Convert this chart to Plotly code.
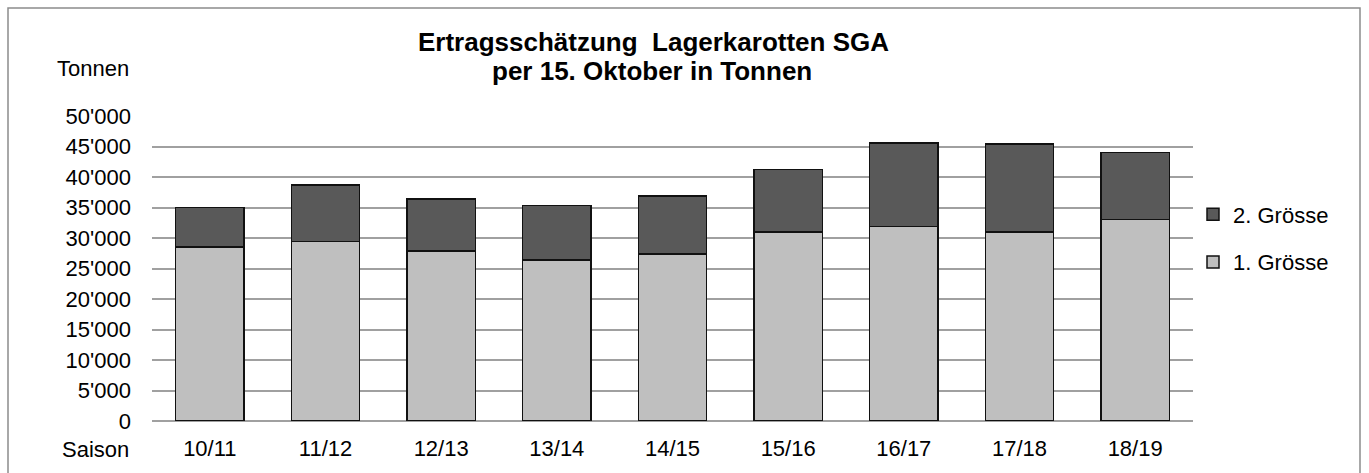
import plotly.graph_objects as go

seasons = ["10/11", "11/12", "12/13", "13/14", "14/15", "15/16", "16/17", "17/18", "18/19"]
groesse1 = [28500, 29400, 27900, 26400, 27400, 31000, 31900, 31000, 33000]
groesse2 = [6500, 9300, 8500, 8900, 9500, 10200, 13700, 14400, 11000]
yticks = [0, 5000, 10000, 15000, 20000, 25000, 30000, 35000, 40000, 45000, 50000]
yticklabels = ["0", "5'000", "10'000", "15'000", "20'000", "25'000", "30'000",
               "35'000", "40'000", "45'000", "50'000"]

FONT = "Liberation Sans, Arial, sans-serif"

fig = go.Figure()
fig.add_trace(go.Bar(x=seasons, y=groesse1, name="1. Grösse",
                     marker=dict(color="#bfbfbf", line=dict(color="#111111", width=1.5)),
                     legendgroup="g1", legendrank=2))
fig.add_trace(go.Bar(x=seasons, y=groesse2, name="2. Grösse",
                     marker=dict(color="#595959", line=dict(color="#111111", width=1.5)),
                     legendgroup="g2", legendrank=1))

L, R, T, B = 152, 176, 116, 52
W, H = 1369, 473
pw = W - L - R
ph = H - T - B


def px_x(x):
    return (x - L) / pw


def px_y(y):
    return (H - B - y) / ph


fig.update_layout(
    width=W, height=H,
    barmode="stack", bargap=0.41,
    margin=dict(l=L, r=R, t=T, b=B, pad=0, autoexpand=False),
    paper_bgcolor="white", plot_bgcolor="white",
    font=dict(family=FONT, size=22, color="#000000"),
    showlegend=True,
    legend=dict(traceorder="grouped", x=px_x(1193), xanchor="left", y=px_y(238.5),
                yanchor="middle", font=dict(size=22), tracegroupgap=16, itemwidth=30,
                bgcolor="rgba(0,0,0,0)"),
    xaxis=dict(showgrid=False, showline=False, ticks="", ticklabelstandoff=12,
               tickfont=dict(size=22), automargin=False),
    yaxis=dict(range=[0, 50000], tickvals=yticks, ticktext=yticklabels,
               showgrid=True, gridcolor="#a0a0a0", gridwidth=1.5, zeroline=True,
               zerolinecolor="#a0a0a0", zerolinewidth=1.5, showline=False, ticks="",
               ticklabelstandoff=20, tickfont=dict(size=22), automargin=False),
)

fig.add_annotation(text="<b>Ertragsschätzung  Lagerkarotten SGA</b>",
                   xref="paper", yref="paper", x=px_x(653), y=px_y(42),
                   showarrow=False, font=dict(size=26), xanchor="center", yanchor="middle")
fig.add_annotation(text="<b>per 15. Oktober in Tonnen</b>",
                   xref="paper", yref="paper", x=px_x(652), y=px_y(71),
                   showarrow=False, font=dict(size=26), xanchor="center", yanchor="middle")
fig.add_annotation(text="Tonnen", xref="paper", yref="paper",
                   x=px_x(131), y=px_y(69), xanchor="right", yanchor="middle",
                   showarrow=False, font=dict(size=22))
fig.add_annotation(text="Saison", xref="paper", yref="paper",
                   x=px_x(131), y=px_y(449), xanchor="right", yanchor="middle",
                   showarrow=False, font=dict(size=22))

fig.add_shape(type="rect", xref="paper", yref="paper",
              x0=px_x(8), x1=px_x(1360),
              y0=px_y(490), y1=px_y(8),
              line=dict(color="#8c8c8c", width=1.5), fillcolor="rgba(0,0,0,0)", layer="below")

fig.write_html("out.html", config={"displayModeBar": False},
               post_script="document.body.style.margin='0';document.body.style.overflow='hidden';")
